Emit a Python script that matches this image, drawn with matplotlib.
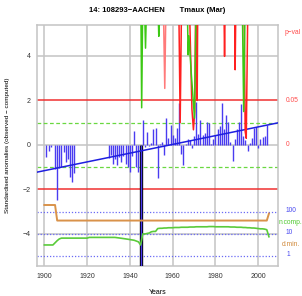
import numpy as np
import matplotlib
matplotlib.use("Agg")
import matplotlib.pyplot as plt

plt.rcParams['font.family'] = ['Liberation Sans', 'DejaVu Sans']

# standardised anomalies (one bar per year)
years = list(range(1901, 1904)) + list(range(1905, 1915)) + list(range(1930, 2005))
anomalies = [
    -0.53, -0.25, -0.10,
    -1.10, -2.48, -1.05, -1.00, -0.30, -0.75, -0.65, -1.45, -1.65, -1.28,
    -0.60, -0.45, -0.85, -0.65, -0.90, -0.55, -0.75, -0.50, -0.85, -1.00,
    -1.20, -0.50, 0.62, -1.00, -1.20, -8.00,
    1.10, -0.10, 0.60, -0.05, 0.10, 0.70, 0.75, -1.50, 0.05, 0.15,
    -0.45, 1.20, 0.30, 0.90, 0.45, 0.30, 0.75, 1.90, -0.40, -0.90,
    0.05, 0.25, 0.20, -0.15, 0.40, 1.95, 0.50, 1.13, 0.45, 0.55,
    1.05, 1.00, 0.05, 0.25, 0.45, 0.70, 0.85, 1.90, 0.70, 1.35,
    1.05, 0.15, -0.70, 0.25, 0.70, 1.05, 1.85, 0.40, 0.20, -0.25,
    0.10, 0.30, 0.75, 0.80, -0.15, 0.25, 0.35, 0.40, 0.90,
]

# regression line, values at the two plot edges
trend_years = [1896.7, 2009.1]
trend_vals = [-1.22, 0.99]

# p-value curves (values above the top are off the chart)
nan = np.nan
green_x = [1945.15, 1945.5, 1945.95, nan, 1946.9, 1947.3, 1947.7, nan,
           1953.2, 1953.5, 1953.8, nan, 1966.9, 1967.2, 1967.6, 1968.7,
           1970.2, 1970.9, nan, 1992.6, 1993.2, 1993.8]
green_y = [6, 1.67, 6, nan, 6, 4.35, 6, nan, 6, 4.88, 6, nan, 6, 4.05, 4.9,
           3.2, 1.2, 6, nan, 6, 1.5, 6]
pink_x = [1955.7, 1956.3, 1956.8]
pink_y = [6, 2.54, 6]
red_x = [1962.9, 1963.5, 1964.1, nan, 1967.9, 1969.0, 1969.7, 1970.3, 1970.7,
         nan, 1971.2, 1971.45, 1971.7, nan, 1984.0, 1984.25, 1984.5, nan,
         1989.0, 1989.2, 1989.5, nan, 1993.4, 1993.9, 1994.4, 1995.1]
red_y = [6, 1.0, 6, nan, 6, 1.6, 0.68, 1.5, 6, nan, 6, 2.0, 6, nan, 6, 3.98, 6,
         nan, 6, 3.38, 6, nan, 6, 0.6, 0.3, 6]

# number of reference stations and minimum distance (log scale, 1 -> -5)
comp_years = list(range(1900, 2006))
n_comp = [
    3.2, 3.2, 3.2, 3.2, 3.2, 4.0, 5.0, 6.0, 6.5, 6.5,
    6.5, 6.5, 6.5, 6.5, 6.5, 6.5, 6.5, 6.5, 6.5, 6.5,
    6.5, 7.0, 7.0, 7.0, 7.0, 7.0, 7.0, 7.0, 7.0, 7.0,
    7.0, 7.0, 7.0, 7.0, 6.8, 6.6, 6.4, 6.2, 6.0, 5.8,
    5.6, 5.4, 5.2, 4.8, 4.4, 3.2, 10.0, 10.0, 10.5, 11.0,
    12.5, 13.0, 13.0, 17.5, 18.0, 18.0, 18.5, 18.5, 19.0, 19.0,
    19.0, 19.5, 19.5, 19.5, 20.0, 20.0, 20.0, 20.0, 20.5, 20.5,
    20.5, 21.0, 21.0, 21.0, 21.0, 21.0, 21.0, 21.5, 21.5, 21.5,
    21.0, 21.0, 21.0, 21.0, 21.0, 21.0, 21.0, 20.5, 20.5, 20.5,
    20.0, 20.0, 20.0, 19.5, 19.5, 19.0, 19.0, 18.5, 18.5, 18.0,
    17.5, 17.0, 17.0, 16.5, 15.5, 7.5,
]
d_min = [200] * 6 + [40] * 99 + [82]

fig = plt.figure(figsize=(3.02, 2.96), dpi=100)
ax = fig.add_axes([37.3 / 302, 1 - 266 / 296, 240.4 / 302, 241 / 296])
ax.set_xlim(1896.7, 2009.1)
ax.set_ylim(-5.44, 5.39)

gray = '#C4C4C4'
for yr in range(1900, 2001, 20):
    ax.axvline(yr, color=gray, lw=1.1, zorder=1)
for v in (-4, 0, 4):
    ax.axhline(v, color=gray, lw=1.1, zorder=1)
for v in (-3, -4, -5):
    ax.axhline(v, color='#6A6AF5', lw=0.9, ls=(0, (1, 1.5)), zorder=2)
for v in (-2, 2):
    ax.axhline(v, color='#F03030', lw=1.1, zorder=2)
for v in (-1, 1):
    ax.axhline(v, color='#6AD840', lw=0.9, ls=(0, (3, 2)), zorder=2)

yrs = np.array(years)
an = np.array(anomalies)
big = an < -5
ax.vlines(yrs[big] + 0.4, 0, an[big], color='black', lw=2.4, zorder=3)
ax.vlines(yrs, 0, an, color='#4A3CF0', lw=1.0, zorder=4)

ax.plot(trend_years, trend_vals, color='#1E1EE0', lw=1.1, zorder=5)

ax.plot(pink_x, pink_y, color='#FF7A7A', lw=1.1, zorder=5)
ax.plot(red_x, red_y, color='#FF2020', lw=1.1, zorder=5)
ax.plot(green_x, green_y, color='#3CC814', lw=1.1, zorder=6)

ax.plot(comp_years, np.log10(n_comp) - 5, color='#5ACB3A', lw=1.2, zorder=5)
ax.plot(comp_years, np.log10(d_min) - 5, color='#D9924A', lw=1.4, zorder=5)

for s in ax.spines.values():
    s.set_color(gray)
    s.set_linewidth(1.1)
ax.set_xticks(range(1900, 2001, 20))
ax.set_yticks([-4, -2, 0, 2, 4])
ax.tick_params(length=0, labelsize=5, pad=5, colors='#333333')

fig.text(157.5 / 302, 1 - 10 / 296, '14: 108293\u2212AACHEN       Tmaux (Mar)',
         ha='center', va='center', fontsize=5.5, fontweight='bold')
fig.text(8 / 302, 1 - 145 / 296, 'Standardised anomalies (observed \u2212 computed)',
         rotation=90, ha='center', va='center', fontsize=4.6)
fig.text(157.5 / 302, 1 - 292.5 / 296, 'Years', ha='center', va='center', fontsize=5)

right_labels = [
    ('p\u2212val', 285, 33, '#FF4A4A'),
    ('0.05', 286, 100, '#FF4A4A'),
    ('0', 286, 145, '#FF4A4A'),
    ('100', 286, 211, '#4848F0'),
    ('n.comp.', 279, 222.5, '#4CC82C'),
    ('10', 286, 233, '#4848F0'),
    ('d.min.', 281.5, 245, '#D08838'),
    ('1', 287, 255, '#4848F0'),
]
for txt, px, py, col in right_labels:
    fig.text(px / 302, 1 - py / 296, txt, ha='left', va='center', fontsize=4.8, color=col)

fig.savefig('out.png', dpi=100)
